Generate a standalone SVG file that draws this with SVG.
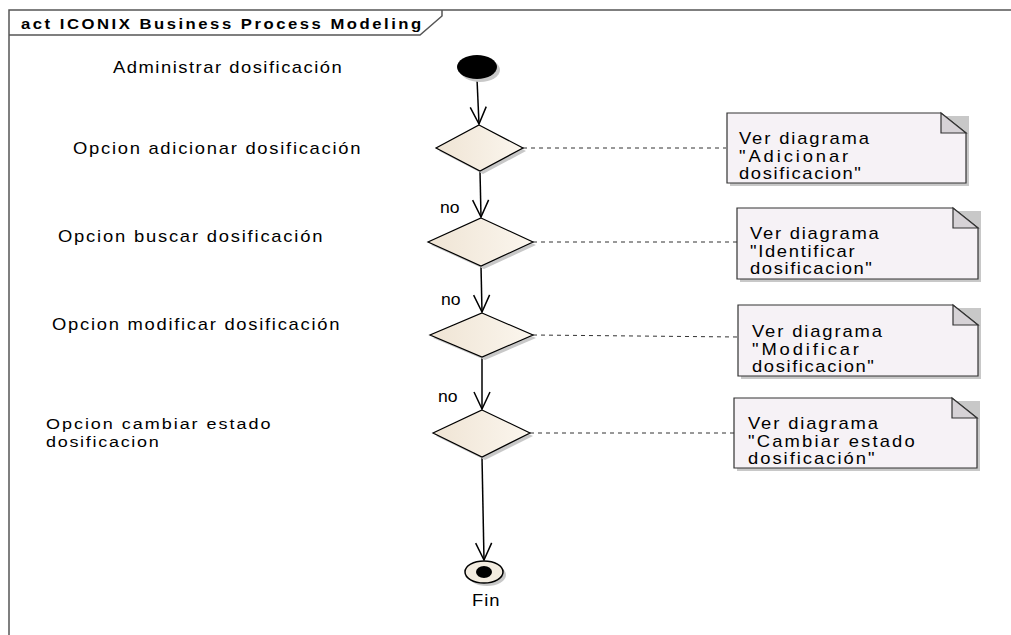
<svg xmlns="http://www.w3.org/2000/svg" width="1011" height="635" viewBox="0 0 1011 635">
<style>
text{font-family:"Liberation Sans",Arial,sans-serif;fill:#000;}
.lbl{font-size:16px;}
.lbl2{font-size:15px;}
.title{font-size:14.5px;font-weight:bold;}
.frame{fill:none;stroke:#555;stroke-width:1.5;}
.dia{fill:url(#dg);stroke:#000;stroke-width:1.2;}
.shadow{fill:#c8c8c8;stroke:none;}
.note{fill:#f6f2f6;stroke:#333;stroke-width:1.2;}
.fold{fill:#d6d2d6;stroke:#333;stroke-width:1.2;}
.flow{fill:none;stroke:#000;stroke-width:1.5;marker-end:url(#arr);}
.dash{fill:none;stroke:#333;stroke-width:1;stroke-dasharray:4 4;}
</style>
<defs>
<linearGradient id="dg" x1="0" y1="0" x2="1" y2="0">
<stop offset="0" stop-color="#efe4d4"/>
<stop offset="1" stop-color="#fbf6ee"/>
</linearGradient>
<marker id="arr" markerUnits="userSpaceOnUse" markerWidth="20" markerHeight="20" viewBox="0 0 20 20" refX="18" refY="10" orient="auto">
<path d="M1,2 L18,10 L1,18" fill="none" stroke="#000" stroke-width="1.5"/>
</marker>
</defs>
<rect x="0" y="0" width="1011" height="635" fill="#fff"/>
<g id="frame">
<path class="frame" d="M9,635 L9,10 L1011,10"/>
<path class="frame" d="M9,35 L420,35 L442,16 L442,10" stroke-width="1"/>
<text class="title" transform="translate(21,29) scale(1.15,1)" textLength="348" lengthAdjust="spacing">act ICONIX Business Process Modeling</text>
</g>
<g id="labels">
<text class="lbl" transform="translate(113,73) scale(1.15,1)" textLength="199" lengthAdjust="spacing">Administrar dosificación</text>
<text class="lbl" transform="translate(73,154) scale(1.15,1)" textLength="250" lengthAdjust="spacing">Opcion adicionar dosificación</text>
<text class="lbl" transform="translate(58,242) scale(1.15,1)" textLength="230" lengthAdjust="spacing">Opcion buscar  dosificación</text>
<text class="lbl" transform="translate(52,330) scale(1.15,1)" textLength="250" lengthAdjust="spacing">Opcion modificar dosificación</text>
<text class="lbl2" transform="translate(46,429) scale(1.2,1)" textLength="187" lengthAdjust="spacing">Opcion cambiar estado</text>
<text class="lbl2" transform="translate(46,447) scale(1.2,1)" textLength="94" lengthAdjust="spacing">dosificacion</text>
</g>
<g id="connectors">
<path class="flow" d="M477,79 L479,124"/>
<path class="flow" d="M480,171 L481,217"/>
<path class="flow" d="M481,266 L482,312"/>
<path class="flow" d="M482,357 L482,409"/>
<path class="flow" d="M482,457 L484,560"/>
<path class="dash" d="M523,148 L726,148"/>
<path class="dash" d="M533,242 L737,242"/>
<path class="dash" d="M533,335 L738,337"/>
<path class="dash" d="M530,433 L734,433"/>
<text class="lbl" transform="translate(440,213) scale(1.15,1)" textLength="17" lengthAdjust="spacingAndGlyphs">no</text>
<text class="lbl" transform="translate(441,305) scale(1.15,1)" textLength="17" lengthAdjust="spacingAndGlyphs">no</text>
<text class="lbl" transform="translate(438,402) scale(1.15,1)" textLength="17" lengthAdjust="spacingAndGlyphs">no</text>
</g>
<g id="start">
<ellipse cx="480" cy="70" rx="20" ry="12" class="shadow"/>
<ellipse cx="477" cy="67" rx="20" ry="12" fill="#000"/>
</g>
<g id="d1">
<polygon class="shadow" points="482,128 526,151 483,174 439,151"/>
<polygon class="dia" points="479,125 523,148 480,171 436,148"/>
</g>
<g id="d2">
<polygon class="shadow" points="484,221 536,245 484,269 431,245"/>
<polygon class="dia" points="481,218 533,242 481,266 428,242"/>
</g>
<g id="d3">
<polygon class="shadow" points="485,316 536,338 485,360 433,338"/>
<polygon class="dia" points="482,313 533,335 482,357 430,335"/>
</g>
<g id="d4">
<polygon class="shadow" points="485,413 533,436 485,460 436,436"/>
<polygon class="dia" points="482,410 530,433 482,457 433,433"/>
</g>
<g id="n1">
<path class="shadow" d="M730,116 L969,116 L969,186 L730,186 Z"/>
<path class="note" d="M727,113 L941,113 L966,133 L966,183 L727,183 Z"/>
<path class="fold" d="M941,113 L941,133 L966,133 Z"/>
<text class="lbl" transform="translate(739,144) scale(1.15,1)" textLength="113" lengthAdjust="spacing">Ver diagrama</text>
<text class="lbl" transform="translate(739,162) scale(1.15,1)" textLength="95" lengthAdjust="spacing">"Adicionar</text>
<text class="lbl" transform="translate(739,179) scale(1.15,1)" textLength="106" lengthAdjust="spacing">dosificacion"</text>
</g>
<g id="n2">
<path class="shadow" d="M740,211 L981,211 L981,282 L740,282 Z"/>
<path class="note" d="M737,208 L953,208 L978,228 L978,279 L737,279 Z"/>
<path class="fold" d="M953,208 L953,228 L978,228 Z"/>
<text class="lbl" transform="translate(750,239) scale(1.15,1)" textLength="112" lengthAdjust="spacing">Ver diagrama</text>
<text class="lbl" transform="translate(750,257) scale(1.15,1)" textLength="91" lengthAdjust="spacing">"Identificar</text>
<text class="lbl" transform="translate(750,274) scale(1.15,1)" textLength="106" lengthAdjust="spacing">dosificacion"</text>
</g>
<g id="n3">
<path class="shadow" d="M741,308 L981,308 L981,379 L741,379 Z"/>
<path class="note" d="M738,305 L953,305 L978,325 L978,376 L738,376 Z"/>
<path class="fold" d="M953,305 L953,325 L978,325 Z"/>
<text class="lbl" transform="translate(752,337) scale(1.15,1)" textLength="113" lengthAdjust="spacing">Ver diagrama</text>
<text class="lbl" transform="translate(752,355) scale(1.15,1)" textLength="93" lengthAdjust="spacing">"Modificar</text>
<text class="lbl" transform="translate(752,372) scale(1.15,1)" textLength="106" lengthAdjust="spacing">dosificacion"</text>
</g>
<g id="n4">
<path class="shadow" d="M737,401 L980,401 L980,471 L737,471 Z"/>
<path class="note" d="M734,398 L952,398 L977,418 L977,468 L734,468 Z"/>
<path class="fold" d="M952,398 L952,418 L977,418 Z"/>
<text class="lbl" transform="translate(748,429) scale(1.15,1)" textLength="113" lengthAdjust="spacing">Ver diagrama</text>
<text class="lbl" transform="translate(748,447) scale(1.15,1)" textLength="145" lengthAdjust="spacing">"Cambiar estado</text>
<text class="lbl" transform="translate(748,464) scale(1.15,1)" textLength="110" lengthAdjust="spacing">dosificación"</text>
</g>
<g id="final">
<ellipse cx="487" cy="575" rx="19" ry="11" class="shadow"/>
<ellipse cx="484" cy="572" rx="19" ry="11" fill="#f3ece0" stroke="#000" stroke-width="1.5"/>
<ellipse cx="484" cy="572" rx="8" ry="6" fill="#000"/>
<text class="lbl" transform="translate(472,606) scale(1.15,1)" textLength="24" lengthAdjust="spacing">Fin</text>
</g>
</svg>
